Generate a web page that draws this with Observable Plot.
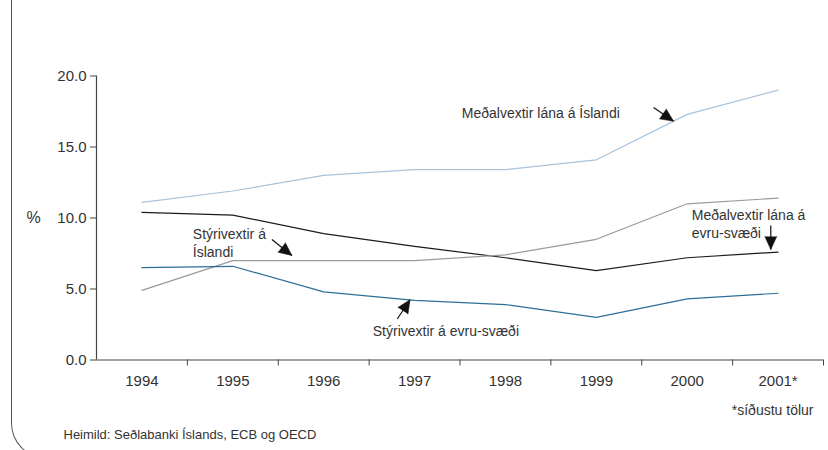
<!DOCTYPE html>
<html>
<head>
<meta charset="utf-8">
<script src="https://cdn.jsdelivr.net/npm/d3@7"></script>
<script src="https://cdn.jsdelivr.net/npm/@observablehq/plot@0.6"></script>
<style>
  html, body { margin: 0; padding: 0; background: #fff; }
  #wrap { position: relative; width: 828px; height: 450px; overflow: hidden; }
  #frame { position: absolute; left: 11px; top: -10px; width: 1000px; height: 468px;
           box-sizing: border-box; border-left: 1.2px solid #555; border-bottom: 1.2px solid #555;
           border-bottom-left-radius: 34.5px; }
  #chart { position: absolute; left: 0; top: 0; }
</style>
</head>
<body>
<div id="wrap"><div id="frame"></div><div id="chart"></div></div>
<script>
// ---- data ----
const years = [1994, 1995, 1996, 1997, 1998, 1999, 2000, 2001];
const yearLabels = ["1994", "1995", "1996", "1997", "1998", "1999", "2000", "2001*"];
const lendingIceland = [11.1, 11.9, 13.0, 13.4, 13.4, 14.1, 17.3, 19.0];
const lendingEuro    = [10.4, 10.2, 8.9, 8.0, 7.2, 6.3, 7.2, 7.6];
const policyIceland  = [4.9, 7.0, 7.0, 7.0, 7.4, 8.5, 11.0, 11.4];
const policyEuro     = [6.5, 6.6, 4.8, 4.2, 3.9, 3.0, 4.3, 4.7];
const yTicks = [0, 5, 10, 15, 20];

const seriesNames = ["Meðalvextir lána á Íslandi", "Meðalvextir lána á evru-svæði",
                     "Stýrivextir á Íslandi", "Stýrivextir á evru-svæði"];
const seriesValues = [lendingIceland, lendingEuro, policyIceland, policyEuro];
const seriesColors = ["#a8c3da", "#1c1c1c", "#9a9a9a", "#2c6f98"];

// annotation labels (data coordinates)
const labelTexts = ["Meðalvextir lána á Íslandi", "Stýrivextir á\nÍslandi",
                    "Meðalvextir lána á\nevru-svæði", "Stýrivextir á evru-svæði"];
const labelX = [1997.52, 1994.56, 2000.05, 1996.54];
const labelY = [17.43, 8.27, 9.61, 2.11];
// annotation arrows: start -> tip (data coordinates), head direction in degrees
const arrowX1 = [1999.63, 1995.43, 2000.92, 1996.81];
const arrowY1 = [17.78, 8.49, 9.47, 2.89];
const arrowX2 = [1999.85, 1995.65, 2000.92, 1996.95];
const arrowY2 = [16.82, 7.36, 7.78, 4.24];
const arrowAngle = [124, 128, 180, 33];

// ---- tables ----
const rows = seriesNames.flatMap((s, i) => years.map((yr, j) => ({series: s, year: yr, value: seriesValues[i][j]})));
const labels = labelTexts.map((t, i) => ({text: t, x: labelX[i], y: labelY[i]}));
const arrows = arrowX1.map((x, i) => ({x1: x, y1: arrowY1[i], x2: arrowX2[i], y2: arrowY2[i], angle: arrowAngle[i]}));
const bounds = years.map(y => y + 0.5);

const font = "'Liberation Sans', Arial, sans-serif";

const chart = Plot.plot({
  width: 828,
  height: 450,
  marginLeft: 96,
  marginRight: 5,
  marginTop: 75.5,
  marginBottom: 90.5,
  style: {fontFamily: font, fontSize: "15px", color: "#333", background: "transparent"},
  x: {domain: [years[0] - 0.5, years[years.length - 1] + 0.5]},
  y: {domain: [0, 20]},
  color: {domain: seriesNames, range: seriesColors},
  marks: [
    Plot.axisY({ticks: yTicks, tickFormat: d3.format(".1f"), tickSize: 6, tickPadding: 4,
                stroke: "#444", fill: "#333", fontSize: 15, label: null}),
    Plot.axisX({ticks: years, tickFormat: (d, i) => yearLabels[years.indexOf(d)], tickSize: 0,
                tickPadding: 15, fill: "#333", fontSize: 15, label: null}),
    Plot.axisX({ticks: bounds, tickFormat: () => "", tickSize: 6, stroke: "#444", label: null}),
    Plot.ruleX([years[0] - 0.5], {stroke: "#444", strokeWidth: 1.2}),
    Plot.ruleY([0], {stroke: "#444", strokeWidth: 1.2}),
    Plot.line(rows, {x: "year", y: "value", z: "series", stroke: "series", strokeWidth: 1.2}),
    Plot.text(labels, {x: "x", y: "y", text: "text", textAnchor: "start", lineHeight: 1.25,
                       fontSize: 14, fill: "#333"}),
    Plot.link(arrows, {x1: "x1", y1: "y1", x2: "x2", y2: "y2", stroke: "#111", strokeWidth: 1.2}),
    Plot.vector(arrows, {x: "x2", y: "y2", rotate: "angle", length: 13, r: 6, anchor: "end",
                         shape: "spike", fill: "#111", stroke: "#111", strokeWidth: 0.5}),
    Plot.text(["%"], {frameAnchor: "left", dx: -70, y: [10], text: d => d, fontSize: 16, fill: "#333"}),
    Plot.text(["*síðustu tölur"], {frameAnchor: "bottom-right", dx: -10, dy: 54.5, text: d => d,
                                    textAnchor: "end", fontSize: 14, fill: "#333"}),
    Plot.text(["Heimild: Seðlabanki Íslands, ECB og OECD"], {frameAnchor: "bottom-left", dx: -33, dy: 78.5,
                                    text: d => d, textAnchor: "start", fontSize: 13, fill: "#333"})
  ]
});
document.getElementById("chart").appendChild(chart);
</script>
</body>
</html>
